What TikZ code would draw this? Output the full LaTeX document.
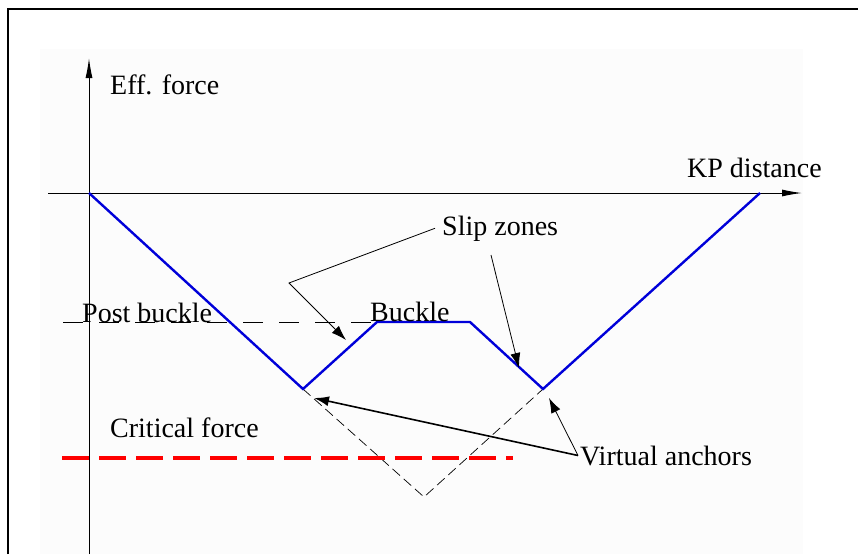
\documentclass[tikz,border=0pt]{standalone}
\usepackage{fontspec}
\setmainfont{Liberation Serif}
\usetikzlibrary{positioning, arrows.meta}

\begin{document}
\begin{tikzpicture}[
    x=1pt, y=-1pt,
    >={Latex[length=15pt,width=10pt]},
    every node/.style={
      inner sep=0pt,
      anchor=base west,
      font=\fontsize{28}{30}\selectfont
    },
    axis/.style={line width=1pt, -{Latex[length=20pt,width=7pt]}},
    force/.style={draw=blue!85!black, line width=2.4pt},
    guide/.style={line width=0.8pt, dash pattern=on 20pt off 16pt},
    virtual/.style={line width=0.7pt, dash pattern=on 10pt off 5pt},
    critical/.style={draw=red, line width=4pt, dash pattern=on 27pt off 10pt},
    leader/.style={->, line width=0.8pt}
  ]
  \useasboundingbox (0,0) rectangle (858,554);

  % Marco
  \fill[black!1] (40,49) rectangle (803,554);
  \draw[line width=2pt] (8,554) |- (858,9);

  % Ejes
  \coordinate (o) at (89,193);
  \coordinate (ytop) at (89,58);
  \coordinate (ybot) at (89,554);
  \coordinate (xleft) at (48,193);
  \coordinate (xright) at (802,193);
  \draw[axis] (ybot) -- (ytop);
  \draw[axis] (xleft) -- (xright);
  \node (eff) at (110,94) {Eff. force};
  \node (kp) at (687,177) {KP distance};

  % Puntos de la curva
  \coordinate (a1) at (303,389);
  \coordinate (b1) at (377,322);
  \coordinate (b2) at (470,322);
  \coordinate (a2) at (543,389);
  \coordinate (e) at (760,193);
  \coordinate (v) at (424,497);
  \coordinate (pb) at (63,322);
  \coordinate (c0) at (62,458);
  \coordinate (c1) at (513,458);

  % Lineas auxiliares
  \draw[guide] (pb) -- (b1);
  \draw[virtual] (a1) -- (v) -- (a2);
  \draw[critical] (c0) -- (c1);

  % Curva de fuerza
  \draw[force] (o) -- (a1) -- (b1) -- (b2) -- (a2) -- (e);

  % Etiquetas
  \node (post) at (82,322) {Post buckle};
  \node (buckle) at (370,321) {Buckle};
  \node (slip) at (442,235) {Slip zones};
  \node (crit) at (110,437) {Critical force};
  \node (va) at (580,465) {Virtual anchors};

  % Flechas
  \coordinate (s1) at (289,283);
  \coordinate (s2) at (346,340);
  \coordinate (s3) at (491,255);
  \coordinate (s4) at (519,368);
  \coordinate (v1) at (314,398);
  \coordinate (v2) at (549,398);
  \draw[leader] ([xshift=-7pt]slip.west) -- (s1) -- (s2);
  \draw[leader] (s3) -- (s4);
  \draw[leader, line width=1.6pt] ([xshift=-2pt]va.west) -- (v1);
  \draw[leader] ([xshift=-2pt]va.west) -- (v2);

\end{tikzpicture}
\end{document}
